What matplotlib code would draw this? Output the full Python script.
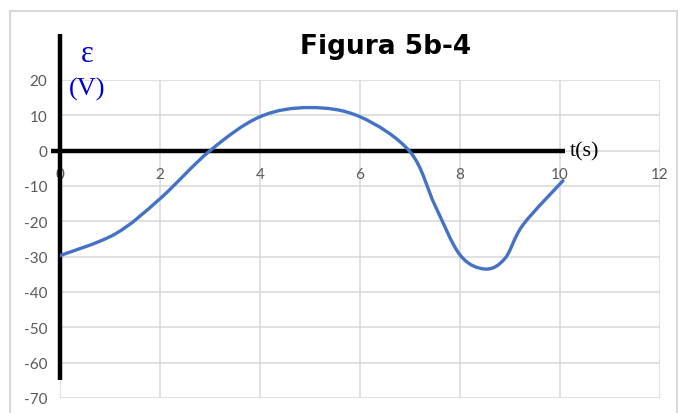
import matplotlib
matplotlib.use('Agg')
import matplotlib.pyplot as plt
from matplotlib.patches import Rectangle, PathPatch
from matplotlib.path import Path

# --- datos de la curva (t en s, fem en V) ---
t_s = [0.0, 1.1, 2.0, 3.0, 4.0, 5.0, 6.0, 7.0, 7.5, 8.0, 8.5, 8.9, 9.26, 10.06]
emf_v = [-29.7, -23.6, -13.6, 0.0, 9.6, 12.2, 9.6, -0.3, -15.5, -29.5, -33.5, -30.5, -21.0, -8.5]

x_ticks = [0, 2, 4, 6, 8, 10, 12]
y_ticks = [20, 10, 0, -10, -20, -30, -40, -50, -60, -70]

GRID = '#d9d9d9'
TICK = '#595959'
LINE = '#4472C4'


def smooth_path(xs, ys, k=1 / 6):
    # línea suavizada tipo Excel: tramos Bezier cúbicos (Catmull-Rom)
    pts = list(zip(xs, ys))
    verts = [pts[0]]
    codes = [Path.MOVETO]
    n = len(pts)
    for i in range(n - 1):
        p0 = pts[max(i - 1, 0)]
        p1 = pts[i]
        p2 = pts[i + 1]
        p3 = pts[min(i + 2, n - 1)]
        c1 = (p1[0] + (p2[0] - p0[0]) * k, p1[1] + (p2[1] - p0[1]) * k)
        c2 = (p2[0] - (p3[0] - p1[0]) * k, p2[1] - (p3[1] - p1[1]) * k)
        verts += [c1, c2, p2]
        codes += [Path.CURVE4] * 3
    return Path(verts, codes)


fig = plt.figure(figsize=(6.78, 4.14), dpi=100)
fig.patch.set_facecolor('white')

# marco exterior del gráfico
fig.add_artist(Rectangle((10 / 678, -0.05), 667 / 678, 1.05 - 12 / 414,
                         transform=fig.transFigure, fill=False,
                         edgecolor=GRID, lw=1.5))

ax = fig.add_axes([60 / 678, 1 - 399 / 414, 600 / 678, 318 / 414])
ax.set_xlim(0, 12)
ax.set_ylim(-70, 20)
for s in ax.spines.values():
    s.set_visible(False)

ax.set_xticks(x_ticks)
ax.set_yticks(y_ticks)
ax.grid(True, color=GRID, lw=1.1)
ax.set_axisbelow(True)
ax.tick_params(length=0)
ax.set_xticklabels([])
ax.set_yticklabels([str(v) for v in y_ticks], color=TICK, fontsize=11,
                   family='Lato')
ax.tick_params(axis='y', pad=9)

# etiquetas del eje t, junto a la línea y=0
for xv in x_ticks:
    ax.annotate(str(xv), (xv, 0), xytext=(0, -12), textcoords='offset points',
                ha='center', va='top', color=TICK, fontsize=11, family='Lato')

# ejes negros
ax.plot([0, 0], [33, -65], color='black', lw=3.2, clip_on=False,
        solid_capstyle='butt', zorder=3)
ax.plot([-0.18, 10.1], [0, 0], color='black', lw=3.2, clip_on=False,
        solid_capstyle='butt', zorder=3)

ax.add_patch(PathPatch(smooth_path(t_s, emf_v), facecolor='none',
                       edgecolor=LINE, lw=2.4, zorder=4, capstyle='round'))

ax.text(0.55, 27.5, 'ε', color='#0000cc', fontsize=22, family='Liberation Serif',
        ha='center', va='center')
ax.text(0.55, 17.5, '(V)', color='#0000cc', fontsize=19, family='Liberation Serif',
        ha='center', va='center')
ax.text(10.2, 0, 't(s)', color='black', fontsize=16, family='Liberation Serif',
        ha='left', va='center')

fig.text(386 / 678, 1 - 47 / 414, 'Figura 5b-4', fontsize=19, fontweight='bold',
         family='DejaVu Sans', ha='center', va='center')

fig.savefig('out.png', dpi=100)
